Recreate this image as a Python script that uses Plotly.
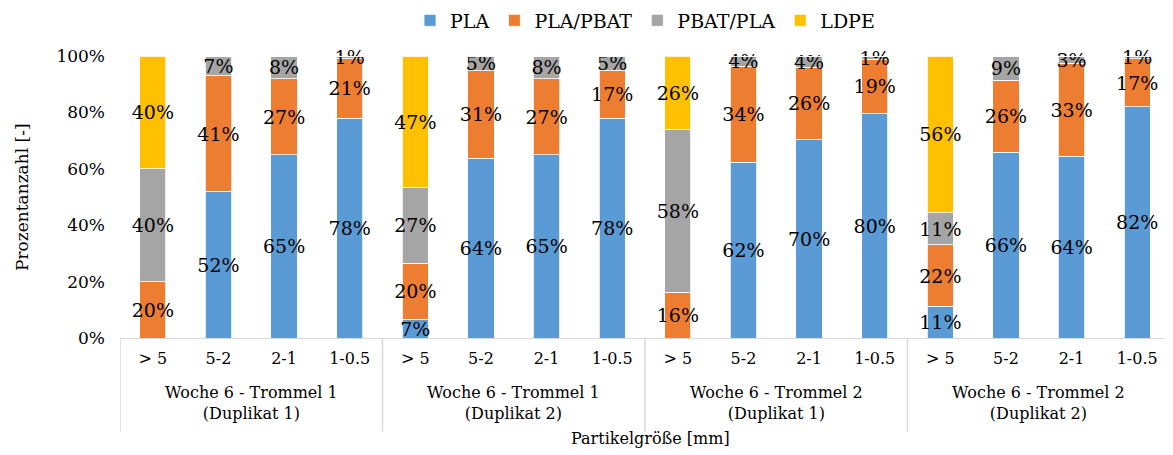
import plotly.graph_objects as go

groups = ["Woche 6 - Trommel 1<br>(Duplikat 1)", "Woche 6 - Trommel 1<br>(Duplikat 2)",
          "Woche 6 - Trommel 2<br>(Duplikat 1)", "Woche 6 - Trommel 2<br>(Duplikat 2)"]
sizes = ["> 5", "5-2", "2-1", "1-0.5"]

pla      = [0, 52, 65, 78,   6.7, 63.8, 65, 78,   0, 62.4, 70.4, 79.8,   11.2, 65.8, 64.5, 82]
pla_pbat = [20, 41, 27, 21,  19.9, 31, 27, 17,    16.3, 34, 25.6, 19,    21.9, 25.6, 32.9, 17]
pbat_pla = [40, 7, 8, 1,     26.7, 5.2, 8, 5,     57.7, 3.6, 4, 1.2,     11.3, 8.6, 2.6, 1]
ldpe     = [40, 0, 0, 0,     46.7, 0, 0, 0,       26, 0, 0, 0,           55.6, 0, 0, 0]

y_ticks = [0, 20, 40, 60, 80, 100]
y_ticktext = [f"{t}%" for t in y_ticks]

series = [("PLA", pla, "#5B9BD5"), ("PLA/PBAT", pla_pbat, "#ED7D31"),
          ("PBAT/PLA", pbat_pla, "#A5A5A5"), ("LDPE", ldpe, "#FFC000")]

n_s = len(sizes)
xpos = [gi * n_s + si for gi in range(len(groups)) for si in range(n_s)]
xtext = [s for _ in groups for s in sizes]

FONT = "DejaVu Serif"
fig = go.Figure()
for name, vals, col in series:
    fig.add_trace(go.Bar(
        name=name, x=xpos, y=vals, width=0.4,
        marker=dict(color=col, line=dict(color="white", width=0.8)),
        text=[f"{round(v)}%" if v > 0 else "" for v in vals],
        textposition="inside", insidetextanchor="middle", constraintext="none",
        textangle=0, cliponaxis=False,
        textfont=dict(family=FONT, size=19, color="black"),
        hoverinfo="skip",
    ))

fig.update_layout(
    barmode="stack",
    width=1165, height=447,
    margin=dict(l=112, r=3, t=48, b=117),
    paper_bgcolor="white", plot_bgcolor="white",
    font=dict(family=FONT, size=16, color="black"),
    showlegend=True,
    legend=dict(orientation="h", x=0.5, xanchor="center", y=0.972, yanchor="middle",
                yref="container", font=dict(size=19, family=FONT), itemclick=False,
                traceorder="normal"),
    xaxis=dict(range=[-0.5, len(xpos) - 0.5], tickmode="array", tickvals=xpos, ticktext=xtext,
               showgrid=False, showline=True, linecolor="#D9D9D9", zeroline=False,
               ticks="", ticklabelstandoff=6,
               automargin=False, tickfont=dict(size=16, family=FONT)),
    yaxis=dict(range=[0, 100.02], tickmode="array", tickvals=y_ticks, ticktext=y_ticktext,
               showgrid=False, showline=False, zeroline=False, ticklabelstandoff=14,
               automargin=False, tickfont=dict(size=17, family=FONT)),
)

# group dividers and labels below the axis
for gi in range(len(groups) + 1):
    fig.add_shape(type="line", xref="x", yref="paper", x0=gi * n_s - 0.5, x1=gi * n_s - 0.5,
                  y0=0, y1=-0.333, line=dict(color="#D9D9D9", width=1.5))
for gi, g in enumerate(groups):
    fig.add_annotation(text=g, x=gi * n_s + (n_s - 1) / 2, y=-0.23, xref="x", yref="paper",
                       showarrow=False, font=dict(size=16, family=FONT),
                       xanchor="center", yanchor="middle")

fig.add_annotation(text="Prozentanzahl [-]", x=-0.0933, y=0.5, xref="paper", yref="paper",
                   showarrow=False, textangle=-90, font=dict(size=17, family=FONT),
                   xanchor="center", yanchor="middle")
fig.add_annotation(text="Partikelgröße [mm]", x=0.505, y=-0.355, xref="paper", yref="paper",
                   showarrow=False, font=dict(size=16, family=FONT), yanchor="middle")
fig.write_html("out.html")
